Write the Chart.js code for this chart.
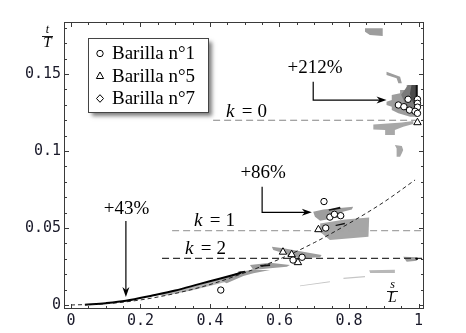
<!doctype html>
<html>
<head>
<meta charset="utf-8"/>
<title>Barilla t/T vs s/L</title>
<script src="https://cdn.jsdelivr.net/npm/chart.js@4.4.1/dist/chart.umd.min.js"></script>
<style>
  html, body { margin: 0; padding: 0; background: #fff; }
  #wrap { position: relative; width: 466px; height: 333px; }
</style>
</head>
<body>
<div id="wrap"><canvas id="chart" width="466" height="333"></canvas></div>
<script>
// axis ticks
var xTicks = [0, 0.2, 0.4, 0.6, 0.8, 1];
var xTickLabels = ['0', '0.2', '0.4', '0.6', '0.8', '1'];
var xMinor = [0.05, 0.1, 0.15, 0.25, 0.3, 0.35, 0.45, 0.5, 0.55, 0.65, 0.7, 0.75, 0.85, 0.9, 0.95];
var yTicks = [0, 0.05, 0.1, 0.15];
var yTickLabels = ['0', '0.05', '0.1', '0.15'];
var yMinor = [0.01, 0.02, 0.03, 0.04, 0.06, 0.07, 0.08, 0.09, 0.11, 0.12, 0.13, 0.14, 0.16, 0.17, 0.18];

// measured points
var barilla1 = [[0.97, 0.1336], [0.997, 0.1336], [0.997, 0.131], [0.997, 0.1285], [0.942, 0.1299],
  [0.958, 0.1288], [0.974, 0.1266], [0.99, 0.1258], [0.997, 0.1245],
  [0.728, 0.0672], [0.745, 0.0571], [0.758, 0.0589], [0.776, 0.058], [0.733, 0.05],
  [0.665, 0.031], [0.639, 0.0292], [0.431, 0.0097]];
var barilla5 = [[0.997, 0.1185], [0.712, 0.049], [0.61, 0.0344], [0.635, 0.0328], [0.653, 0.0276]];
var barilla7 = [];

// curves
var kLevels = [0.12, 0.0483, 0.0303];
var kStart = [0.409, 0.291, 0.262];
var parabola = [[0, 0], [0.1, 0.0008], [0.2, 0.0033], [0.3, 0.0075], [0.4, 0.0133], [0.5, 0.021],
  [0.6, 0.0298], [0.7, 0.0405], [0.8, 0.053], [0.9, 0.0668], [0.99, 0.0812]];
var blackCurve = [[0.04, 0.0002], [0.1, 0.0012], [0.158, 0.0027], [0.237, 0.0063], [0.3, 0.0094],
  [0.371, 0.0137], [0.43, 0.0172], [0.467, 0.0195], [0.49, 0.021]];

// shaded regions
var patchTopRight = [[0.966, 0.1429], [0.997, 0.1429], [0.997, 0.1223], [0.976, 0.1223], [0.942, 0.1245],
  [0.923, 0.1266], [0.923, 0.1288], [0.908, 0.1299], [0.908, 0.132], [0.923, 0.1331], [0.923, 0.1364],
  [0.947, 0.1375], [0.947, 0.1396], [0.966, 0.1396]];
var patchTopRightMid = [[0.97, 0.1429], [0.997, 0.1429], [0.997, 0.1245], [0.98, 0.126], [0.96, 0.1315], [0.95, 0.1365]];
var patchTopRightDark = [[0.98, 0.1429], [0.997, 0.1429], [0.997, 0.1285], [0.985, 0.131], [0.975, 0.137]];
var streakTopRight = [[0.992, 0.1429], [0.997, 0.1429], [0.997, 0.129], [0.992, 0.13]];
var patchBelowK0 = [[0.870, 0.1172], [0.952, 0.1185], [0.985, 0.1195], [0.985, 0.1175], [0.956, 0.1158],
  [0.932, 0.1136], [0.932, 0.1104], [0.904, 0.1104], [0.904, 0.1136], [0.870, 0.114]];
var patchArc = [[0.908, 0.1515], [0.947, 0.1482], [0.952, 0.144], [0.942, 0.144], [0.937, 0.1472], [0.908, 0.1494]];
var patchTop = [[0.846, 0.1797], [0.897, 0.1797], [0.897, 0.1747], [0.86, 0.1753], [0.846, 0.1775]];
var patchLow = [[0.932, 0.1039], [0.952, 0.1032], [0.956, 0.1006], [0.952, 0.0985], [0.947, 0.0963],
  [0.937, 0.0963], [0.937, 0.1017]];
var patchMidUpper = [[0.697, 0.0606], [0.726, 0.0621], [0.812, 0.0638], [0.808, 0.0621], [0.774, 0.06],
  [0.788, 0.0573], [0.755, 0.0563], [0.717, 0.0547], [0.702, 0.0573]];
var streakMidUpper = [[0.741, 0.0621], [0.774, 0.0638], [0.776, 0.0625], [0.743, 0.0612]];
var patchMidLower = [[0.717, 0.053], [0.788, 0.0556], [0.858, 0.0568], [0.856, 0.0444], [0.745, 0.0422], [0.717, 0.0474]];
var streakMidLower = [[0.76, 0.052], [0.788, 0.0534], [0.788, 0.0524], [0.763, 0.0513]];
var patchK2 = [[0.578, 0.0379], [0.611, 0.0368], [0.721, 0.0325], [0.717, 0.031], [0.659, 0.0303], [0.582, 0.0357]];
var patchStreakA = [[0.515, 0.026], [0.573, 0.0275], [0.63, 0.026], [0.621, 0.0249], [0.573, 0.0238], [0.525, 0.0227]];
var streakA = [[0.544, 0.026], [0.573, 0.0264], [0.573, 0.0253], [0.546, 0.0249]];
var patchStreakB = [[0.429, 0.0162], [0.486, 0.0216], [0.52, 0.0227], [0.573, 0.0227], [0.525, 0.0206],
  [0.496, 0.0188], [0.448, 0.0141]];
var streakB = [[0.481, 0.0216], [0.501, 0.0223], [0.501, 0.021], [0.484, 0.0206]];
var patchUnderCurve = [[0.25, 0.0066], [0.35, 0.0121], [0.45, 0.018], [0.5, 0.0212], [0.5, 0.0197],
  [0.45, 0.0152], [0.35, 0.0096], [0.266, 0.0058]];
var faint1 = [[0.659, 0.0126], [0.745, 0.0154], [0.745, 0.0147], [0.659, 0.0121]];
var faint2 = [[0.784, 0.0177], [0.846, 0.0189], [0.846, 0.0181], [0.784, 0.0169]];
var faint3 = [[0.858, 0.0226], [0.932, 0.0229], [0.932, 0.0208], [0.861, 0.0208]];
var patchK2Right = [[0.956, 0.0314], [0.995, 0.031], [0.995, 0.0288], [0.966, 0.0281]];
var dotK2Right = [[0.995, 0.03]];

var GREY = '#9d9d9d', LIGHT = '#c6c6c6', MID = '#7a7a7a', DARK = '#4a4a4a', INK = '#111';

function pts(a) { return a.map(function (p) { return { x: p[0], y: p[1] }; }); }

function region(a, color) {
  return { data: pts(a), showLine: true, fill: 'shape', backgroundColor: color, borderWidth: 0,
    pointRadius: 0, order: 5 };
}

var datasets = [
  { data: pts(barilla1), pointStyle: 'circle', pointRadius: 3.2, backgroundColor: '#fff',
    borderColor: '#000', borderWidth: 1, order: 0 },
  { data: pts(barilla5), pointStyle: 'triangle', pointRadius: 4.3, backgroundColor: '#fff',
    borderColor: '#000', borderWidth: 1, order: 0 },
  { data: pts(barilla7), pointStyle: 'rectRot', pointRadius: 3.5, backgroundColor: '#fff',
    borderColor: '#000', borderWidth: 1, order: 0 },
  { data: pts(parabola), showLine: true, borderColor: '#111', borderWidth: 0.9, borderDash: [4, 3],
    pointRadius: 0, cubicInterpolationMode: 'monotone', order: 1 },
  { data: pts(blackCurve), showLine: true, borderColor: '#000', borderWidth: 2,
    pointRadius: 0, cubicInterpolationMode: 'monotone', order: 1 }
];

var kColors = ['#858585', '#a5a5a5', '#333'];
kLevels.forEach(function (k, i) {
  datasets.push({ data: [{ x: kStart[i], y: k }, { x: 1.02, y: k }], showLine: true,
    borderColor: kColors[i], borderWidth: 1.2, borderDash: [7, 4], pointRadius: 0, order: 2 });
});

[[streakTopRight, INK], [streakMidUpper, INK], [streakMidLower, INK], [streakA, INK], [streakB, INK]]
  .forEach(function (r) { var d = region(r[0], r[1]); d.order = 3; datasets.push(d); });
[[patchTopRightDark, DARK]].forEach(function (r) { var d = region(r[0], r[1]); d.order = 4; datasets.push(d); });
[[patchTopRightMid, MID]].forEach(function (r) { var d = region(r[0], r[1]); d.order = 4.5; datasets.push(d); });
[[patchTopRight, GREY], [patchBelowK0, '#a8a8a8'], [patchArc, GREY], [patchTop, GREY], [patchLow, '#a8a8a8'],
 [patchMidUpper, GREY], [patchMidLower, '#a6a6a6'], [patchK2, GREY], [patchStreakA, GREY],
 [patchStreakB, GREY], [patchUnderCurve, '#b4b4b4'], [faint1, LIGHT], [faint2, LIGHT], [faint3, '#b8b8b8'],
 [patchK2Right, GREY]].forEach(function (r) { datasets.push(region(r[0], r[1])); });
datasets.push({ data: pts(dotK2Right), pointStyle: 'rect', pointRadius: 1.5, backgroundColor: '#000',
  borderWidth: 0, order: 0 });

// text notes and arrows, in axis units
var notes = [
  { text: '+43%', x: 0.160, y: 0.0623 },
  { text: '+86%', x: 0.553, y: 0.0855 },
  { text: '+212%', x: 0.702, y: 0.1537 }
];
var kNotes = [
  { n: '0', x: 0.504, y: 0.1253 },
  { n: '1', x: 0.412, y: 0.0545 },
  { n: '2', x: 0.386, y: 0.0364 }
];
var arrows = [
  [[0.158, 0.0545], [0.158, 0.0052]],
  [[0.550, 0.0768], [0.550, 0.0602], [0.693, 0.0602]],
  [[0.697, 0.145], [0.697, 0.1331], [0.908, 0.1331]]
];

var SERIF = '"Liberation Serif", "DejaVu Serif", serif';

function marker(ctx, style, x, y) {
  ctx.beginPath();
  if (style === 'circle') {
    ctx.arc(x, y, 3.2, 0, Math.PI * 2);
  } else if (style === 'triangle') {
    ctx.moveTo(x, y - 4); ctx.lineTo(x + 3.6, y + 2.5); ctx.lineTo(x - 3.6, y + 2.5); ctx.closePath();
  } else {
    ctx.moveTo(x, y - 3.8); ctx.lineTo(x + 3.5, y); ctx.lineTo(x, y + 3.8); ctx.lineTo(x - 3.5, y); ctx.closePath();
  }
  ctx.fillStyle = '#fff'; ctx.fill();
  ctx.lineWidth = 1; ctx.strokeStyle = '#000'; ctx.stroke();
}

var decor = {
  id: 'decor',
  afterDatasetsDraw: function (chart) {
    var ctx = chart.ctx, xs = chart.scales.x, ys = chart.scales.y, a = chart.chartArea;
    ctx.save();

    // frame with inward ticks on all sides
    ctx.strokeStyle = '#3a3a3a'; ctx.lineWidth = 1;
    ctx.strokeRect(a.left + 0.5, a.top + 0.5, a.right - a.left - 1, a.bottom - a.top - 1);
    function tx(v, len) {
      var p = Math.round(xs.getPixelForValue(v)) + 0.5;
      ctx.beginPath();
      ctx.moveTo(p, a.bottom); ctx.lineTo(p, a.bottom - len);
      ctx.moveTo(p, a.top); ctx.lineTo(p, a.top + len);
      ctx.stroke();
    }
    function ty(v, len) {
      var p = Math.round(ys.getPixelForValue(v)) + 0.5;
      ctx.beginPath();
      ctx.moveTo(a.left, p); ctx.lineTo(a.left + len, p);
      ctx.moveTo(a.right, p); ctx.lineTo(a.right - len, p);
      ctx.stroke();
    }
    xTicks.forEach(function (v) { tx(v, 5); });
    xMinor.forEach(function (v) { tx(v, 3); });
    yTicks.forEach(function (v) { ty(v, 5); });
    yMinor.forEach(function (v) { ty(v, 3); });

    // arrows
    ctx.strokeStyle = '#000'; ctx.fillStyle = '#000'; ctx.lineWidth = 1.2;
    arrows.forEach(function (path) {
      var P = path.map(function (p) { return [xs.getPixelForValue(p[0]), ys.getPixelForValue(p[1])]; });
      var n = P.length, e = P[n - 1], s = P[n - 2];
      var ang = Math.atan2(e[1] - s[1], e[0] - s[0]);
      ctx.beginPath();
      ctx.moveTo(P[0][0], P[0][1]);
      for (var i = 1; i < n - 1; i++) ctx.lineTo(P[i][0], P[i][1]);
      ctx.lineTo(e[0] - 6 * Math.cos(ang), e[1] - 6 * Math.sin(ang));
      ctx.stroke();
      ctx.save();
      ctx.translate(e[0], e[1]); ctx.rotate(ang);
      ctx.beginPath();
      ctx.moveTo(0, 0); ctx.lineTo(-10, -3.5); ctx.lineTo(-7, 0); ctx.lineTo(-10, 3.5); ctx.closePath();
      ctx.fill();
      ctx.restore();
    });

    // labels
    ctx.fillStyle = '#000'; ctx.textAlign = 'center'; ctx.textBaseline = 'middle';
    ctx.font = '19px ' + SERIF;
    notes.forEach(function (n) {
      ctx.fillText(n.text, xs.getPixelForValue(n.x), ys.getPixelForValue(n.y));
    });
    kNotes.forEach(function (n) {
      var cx = xs.getPixelForValue(n.x), cy = ys.getPixelForValue(n.y);
      ctx.textAlign = 'center';
      ctx.font = 'italic 19px ' + SERIF;
      ctx.fillText('k', cx - 16, cy);
      ctx.font = '19px ' + SERIF;
      ctx.fillText('=', cx + 1, cy);
      ctx.fillText(n.n, cx + 16, cy);
    });

    // axis fractions t/T and s/L
    function frac(top, bot, cx, cy) {
      ctx.font = 'italic 12px ' + SERIF;
      ctx.fillText(top, cx, cy - 6);
      ctx.font = 'italic 15px ' + SERIF;
      ctx.fillText(bot, cx, cy + 7);
      ctx.lineWidth = 0.9;
      ctx.beginPath(); ctx.moveTo(cx - 5.5, cy + 0.5); ctx.lineTo(cx + 5.5, cy + 0.5); ctx.stroke();
    }
    frac('t', 'T', 47.5, 36);
    frac('s', 'L', 392.5, 291);

    // legend box
    var lx = 88.5, ly = 38.5, lw = 120, lh = 74;
    ctx.save();
    ctx.shadowColor = 'rgba(0,0,0,0.5)'; ctx.shadowBlur = 4; ctx.shadowOffsetX = 3; ctx.shadowOffsetY = 3;
    ctx.fillStyle = '#fff'; ctx.fillRect(lx, ly, lw, lh);
    ctx.restore();
    ctx.strokeStyle = '#444'; ctx.lineWidth = 1; ctx.strokeRect(lx, ly, lw, lh);
    var entries = [['circle', 'Barilla n\u00b01'], ['triangle', 'Barilla n\u00b05'], ['diamond', 'Barilla n\u00b07']];
    entries.forEach(function (en, i) {
      var y = 53.5 + i * 22.5;
      marker(ctx, en[0], 100, y);
      ctx.fillStyle = '#000'; ctx.textAlign = 'left'; ctx.textBaseline = 'middle';
      ctx.font = '19px ' + SERIF;
      ctx.fillText(en[1], 112, y + 1);
    });
    ctx.restore();
  }
};

new Chart(document.getElementById('chart'), {
  type: 'scatter',
  data: { datasets: datasets },
  options: {
    responsive: false,
    animation: false,
    events: [],
    layout: { padding: { top: 22, right: 42, left: 0, bottom: 0 } },
    plugins: { legend: { display: false }, tooltip: { enabled: false } },
    scales: {
      x: {
        type: 'linear', min: -0.0201, max: 1.0158,
        afterBuildTicks: function (s) { s.ticks = xTicks.map(function (v) { return { value: v }; }); },
        afterFit: function (s) { s.height = 24; },
        grid: { display: false, drawTicks: false }, border: { display: false },
        ticks: { padding: 3, color: '#1a1a2a', maxRotation: 0, autoSkip: false,
          font: { family: '"DejaVu Sans Mono", monospace', size: 15 },
          callback: function (v, i) { return xTickLabels[i]; } }
      },
      y: {
        type: 'linear', min: -0.0026, max: 0.1838,
        afterBuildTicks: function (s) { s.ticks = yTicks.map(function (v) { return { value: v }; }); },
        afterFit: function (s) { s.width = 64; },
        grid: { display: false, drawTicks: false }, border: { display: false },
        ticks: { padding: 3, color: '#1a1a2a', autoSkip: false,
          font: { family: '"DejaVu Sans Mono", monospace', size: 15 },
          callback: function (v, i) { return yTickLabels[i]; } }
      }
    }
  },
  plugins: [decor]
});
</script>
</body>
</html>
